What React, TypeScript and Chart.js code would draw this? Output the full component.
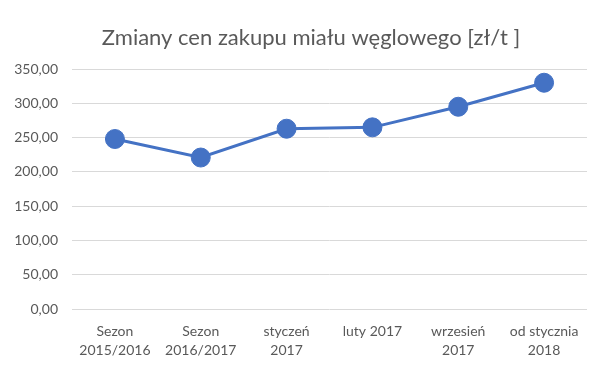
import React, { useEffect, useRef } from "react";
import { Chart, registerables } from "chart.js";

Chart.register(...registerables);

const categories: string[][] = [
  ["Sezon", "2015/2016"],
  ["Sezon", "2016/2017"],
  ["styczeń", "2017"],
  ["luty 2017"],
  ["wrzesień", "2017"],
  ["od stycznia", "2018"],
];
const prices: number[] = [248, 221, 263, 265, 295, 330];
const titleText = "Zmiany cen zakupu miału węglowego [zł/t ]";
const yMin = 0;
const yMax = 350;
const yStep = 50;

const titlePlugin = {
  id: "customTitle",
  afterDraw(chart: any) {
    const ctx = chart.ctx;
    ctx.save();
    ctx.fillStyle = "#595959";
    ctx.font = "22px Lato";
    ctx.textAlign = "center";
    ctx.textBaseline = "middle";
    ctx.fillText(titleText, 311, 38);
    ctx.restore();
  },
};

export default function App() {
  const ref = useRef<HTMLCanvasElement | null>(null);
  useEffect(() => {
    if (!ref.current) return;
    const chart = new Chart(ref.current, {
      type: "line",
      data: {
        labels: categories,
        datasets: [
          {
            data: prices,
            borderColor: "#4472C4",
            backgroundColor: "#4472C4",
            borderWidth: 3,
            pointRadius: 9.5,
            pointHoverRadius: 9.5,
            pointBorderWidth: 1,
            pointBorderColor: "#4472C4",
            pointBackgroundColor: "#4472C4",
            tension: 0,
          },
        ],
      },
      plugins: [titlePlugin],
      options: {
        animation: false,
        responsive: false,
        layout: { padding: { left: 0, right: 17, top: 69, bottom: 23 } },
        plugins: {
          legend: { display: false },
          tooltip: { enabled: false },
          title: { display: false },
        },
        scales: {
          x: {
            offset: true,
            grid: { display: false },
            border: { display: false },
            ticks: {
              color: "#595959",
              font: { family: "Lato", size: 14, lineHeight: 1.35 },
              padding: 5,
              maxRotation: 0,
              autoSkip: false,
            },
          },
          y: {
            min: yMin,
            max: yMax,
            border: { display: false },
            grid: { color: "#d9d9d9", lineWidth: 1, drawTicks: false },
            afterFit: (scale: any) => {
              scale.width = 72;
            },
            ticks: {
              stepSize: yStep,
              color: "#595959",
              font: { family: "Lato", size: 14 },
              padding: 14,
              callback: (v: any) => Number(v).toFixed(2).replace(".", ","),
            },
          },
        },
      },
    });
    return () => chart.destroy();
  }, []);
  return (
    <div style={{ position: "fixed", left: 0, top: 0, width: 604, height: 388, background: "#fff" }}>
      <canvas ref={ref} width={604} height={388} />
    </div>
  );
}
